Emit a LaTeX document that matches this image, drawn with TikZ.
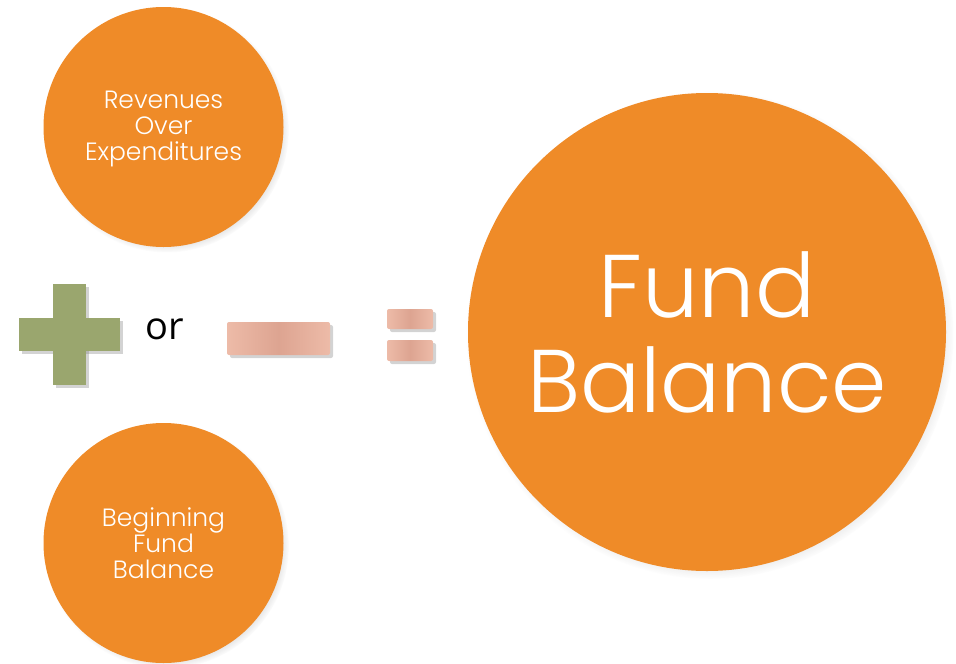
\documentclass[tikz,border=0pt]{standalone}
\usepackage{fontspec}
\setmainfont{Poppins}
\newfontfamily\circfont{Poppins Light}
\newfontfamily\orfont{Open Sans}
\usetikzlibrary{shadows}
\definecolor{orangefill}{HTML}{EF8B28}
\definecolor{plusgreen}{HTML}{9AA66E}
\definecolor{salmon}{HTML}{E6AE9A}
\definecolor{salmondark}{HTML}{DDA491}
\definecolor{salmonlight}{HTML}{EDBBA8}
\tikzset{
  bubble/.style={circle, fill=orangefill, draw=none, text=white, align=center, inner sep=0pt,
    circular drop shadow={shadow xshift=3pt, shadow yshift=-3pt, shadow scale=1.02, opacity=0.45}},
  smalltext/.style={font=\circfont\fontsize{25}{26}\selectfont},
  bigtext/.style={font=\circfont\fontsize{89}{95}\selectfont},
  plusbar/.style={fill=plusgreen, draw=none, inner sep=0pt,
    drop shadow={shadow xshift=3pt, shadow yshift=-3pt, opacity=0.35}},
  salmonbar/.style={draw=none, inner sep=0pt, rounded corners=2pt,
    left color=salmonlight, right color=salmonlight, middle color=salmondark,
    drop shadow={shadow xshift=3pt, shadow yshift=-3pt, opacity=0.35}}
}
\begin{document}
\begin{tikzpicture}[x=1pt,y=-1pt]
\useasboundingbox (0,0) rectangle (956,664);
\node[bubble, minimum size=240pt] (rev) at (163.5,127) {};
\node[smalltext, text=white, align=center, inner sep=0pt] (revtext) at (163.5,128.5) {Revenues\\Over\\Expenditures};
\node[bubble, minimum size=240pt] (beg) at (163.5,543) {};
\node[smalltext, text=white, align=center, inner sep=0pt] (begtext) at (163.5,543.5) {Beginning\\Fund\\Balance};
\node[bubble, minimum size=478pt, bigtext] (fb) at (707,332) {Fund\\Balance};
% plus sign
\node[plusbar, minimum width=33pt, minimum height=101pt] (plusv) at (69.5,334.5) {};
\node[plusbar, minimum width=101pt, minimum height=33pt] (plush) at (69.5,334.5) {};
\fill[plusgreen] (plusv.north west) rectangle (plusv.south east);
% or
\node[font=\orfont\fontsize{38}{40}\selectfont, text=black, inner sep=0pt] (or) at (165,329) {or};
% minus
\node[salmonbar, minimum width=103pt, minimum height=33pt] (minus) at (278.5,338.5) {};
% equals
\node[salmonbar, minimum width=46pt, minimum height=20pt] (eqtop) at (410,319) {};
\node[salmonbar, minimum width=46pt, minimum height=21pt] (eqbot) at (410,350.5) {};
\end{tikzpicture}
\end{document}
